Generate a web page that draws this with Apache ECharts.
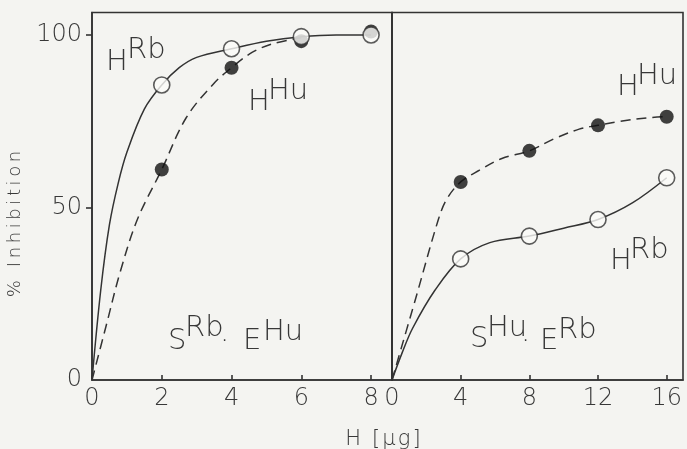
<!DOCTYPE html>
<html>
<head>
<meta charset="utf-8">
<script src="https://cdn.jsdelivr.net/npm/echarts@6/dist/echarts.min.js"></script>
<style>
  html, body { margin: 0; padding: 0; background: #f4f4f1; }
  #chart { width: 687px; height: 449px; }
</style>
</head>
<body>
<div id="chart"></div>
<script>
// ---- Tick values ----
const leftTicksX = [0, 2, 4, 6, 8];
const rightTicksX = [0, 4, 8, 12, 16];
const yTickLabels = [0, 50, 100];
const yTickMarks = [50, 100];

// ---- Panel A (S^Rb . E^Hu): measured points ----
const leftRbPoints = [[2, 85.5], [4, 96], [6, 99.5], [8, 100]];
const leftHuPoints = [[2, 61], [4, 90.5], [6, 98.2], [8, 101]];
// fitted curves
const leftRbCurve = [[0, 0], [0.25, 26], [0.5, 45], [0.75, 57], [1, 66], [1.5, 78.5], [2, 85.5],
  [2.5, 90.5], [3, 93.5], [4, 96], [5, 98.2], [6, 99.5], [7, 100], [8, 100]];
const leftHuCurve = [[0, 0], [0.4, 15.5], [0.8, 31], [1.3, 46.5], [2, 61], [2.7, 76],
  [3.5, 86], [4, 90.5], [4.6, 95], [5.2, 97.5], [6, 99.2]];

// ---- Panel B (S^Hu . E^Rb): measured points ----
const rightHuPoints = [[4, 57.4], [8, 66.4], [12, 73.8], [16, 76.3]];
const rightRbPoints = [[4, 35.1], [8, 41.7], [12, 46.5], [16, 58.6]];
// fitted curves
const rightHuCurve = [[0, 0], [1.4, 24], [2.7, 46.5], [3.2, 52.5], [4, 57.4], [5.1, 60.8],
  [6.4, 64.2], [8, 66.4], [9.4, 69.8], [10.9, 72.7], [12, 73.8], [13.3, 75], [14.9, 76], [16, 76.3]];
const rightRbCurve = [[0, 0], [0.6, 8], [1.2, 15], [2.5, 26], [4, 35.1], [5.7, 39.8],
  [8, 41.7], [10, 44], [12, 46.5], [14, 51.3], [16, 58.6]];

const INK = '#333333';
const TEXT = '#383838';
const FONT = '"DejaVu Sans", "Liberation Sans", sans-serif';
const THIN = '\u200A';

const chart = echarts.init(document.getElementById('chart'), null, { renderer: 'canvas' });

function xAxisFor(gridIndex, max, ticks) {
  return {
    type: 'value', gridIndex, min: 0, max,
    axisLine: { show: true, onZero: false, lineStyle: { color: INK, width: 1.6 } },
    axisTick: { show: true, inside: true, length: 5, customValues: ticks, lineStyle: { color: INK, width: 1.6 } },
    axisLabel: { customValues: ticks, margin: 7, color: TEXT, fontSize: 24, fontWeight: 200, fontFamily: FONT },
    splitLine: { show: false }
  };
}

function yAxisFor(gridIndex, withLabels) {
  return {
    type: 'value', gridIndex, min: 0, max: 106.5,
    axisLine: { show: true, lineStyle: { color: INK, width: 1.6 } },
    axisTick: { show: withLabels, inside: false, length: 6, customValues: yTickMarks, lineStyle: { color: INK, width: 1.6 } },
    axisLabel: { show: withLabels, customValues: yTickLabels, margin: 10, color: TEXT, fontSize: 24, fontWeight: 200, fontFamily: FONT },
    splitLine: { show: false }
  };
}

function curve(data, xi, dashed) {
  return {
    type: 'line', xAxisIndex: xi, yAxisIndex: xi, data, smooth: 0.35,
    showSymbol: false, silent: true, z: 2,
    lineStyle: { color: INK, width: 1.5, type: dashed ? [10, 6] : 'solid' }
  };
}

function points(data, xi, filled) {
  return {
    type: 'scatter', xAxisIndex: xi, yAxisIndex: xi, data,
    symbol: 'circle', symbolSize: filled ? 14 : 16, z: filled ? 3 : 4,
    itemStyle: filled
      ? { color: '#111111' }
      : { color: '#fbfbf9', borderColor: INK, borderWidth: 1.6 }
  };
}

// Text piece for the panel annotations (base letters and raised superscripts)
function txt(x, y, text, size) {
  return {
    type: 'text', x, y, z: 10,
    style: { text, fill: TEXT, fontSize: size || 29, fontWeight: 200, fontFamily: FONT,
             align: 'left', verticalAlign: 'middle' }
  };
}

const annotations = [
  // panel A
  txt(106, 62.5, 'H'), txt(127, 50, 'Rb'),
  txt(248, 102.5, 'H'), txt(268, 91.5, 'Hu'),
  txt(168, 341, 'S'), txt(185, 328.5, 'Rb'), txt(220, 333, '.'), txt(243, 341.5, 'E'), txt(263, 332, 'Hu'),
  // panel B
  txt(617, 87.5, 'H'), txt(637, 76.5, 'Hu'),
  txt(610, 261, 'H'), txt(630, 250, 'Rb'),
  txt(470, 339.5, 'S'), txt(487, 328, 'Hu'), txt(521, 333, '.'), txt(540, 341, 'E'), txt(558, 330, 'Rb'),
  // axis titles
  {
    type: 'text', x: 15, y: 224, rotation: Math.PI / 2, z: 10,
    style: { text: '% Inhibition'.split('').join('\u2009'), fill: TEXT, fontSize: 18, fontWeight: 200, fontFamily: FONT,
             align: 'center', verticalAlign: 'middle' }
  },
  {
    type: 'text', x: 383, y: 440, z: 10,
    style: { text: 'H [μg]'.split('').join(THIN), fill: TEXT, fontSize: 21, fontWeight: 200, fontFamily: FONT,
             align: 'center', verticalAlign: 'middle' }
  }
];

chart.setOption({
  backgroundColor: '#f4f4f1',
  animation: false,
  grid: [
    { left: 92, top: 12.5, width: 300, height: 367.5, show: true, borderColor: INK, borderWidth: 1.6, backgroundColor: 'transparent' },
    { left: 392, top: 12.5, width: 291, height: 367.5, show: true, borderColor: INK, borderWidth: 1.6, backgroundColor: 'transparent' }
  ],
  xAxis: [xAxisFor(0, 8.6, leftTicksX), xAxisFor(1, 16.95, rightTicksX)],
  yAxis: [yAxisFor(0, true), yAxisFor(1, false)],
  series: [
    curve(leftRbCurve, 0, false),
    curve(leftHuCurve, 0, true),
    points(leftHuPoints, 0, true),
    points(leftRbPoints, 0, false),
    curve(rightRbCurve, 1, false),
    curve(rightHuCurve, 1, true),
    points(rightHuPoints, 1, true),
    points(rightRbPoints, 1, false)
  ],
  graphic: annotations
});
</script>
</body>
</html>
